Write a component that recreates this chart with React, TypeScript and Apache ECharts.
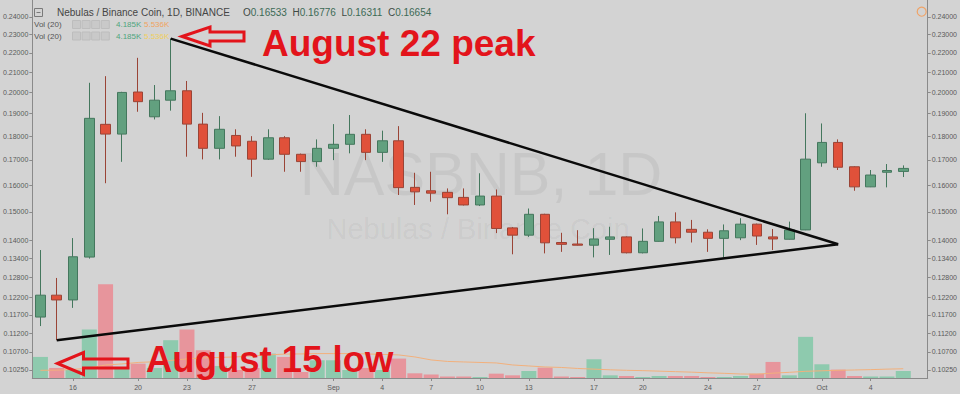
import { useEffect, useRef } from 'react';
import * as echarts from 'echarts';

// Daily NAS/BNB candles, 14 Aug – 6 Oct (one empty trailing day for right padding)
const dates = [
  '08-14', '08-15', '08-16', '08-17', '08-18', '08-19', '08-20', '08-21', '08-22', '08-23',
  '08-24', '08-25', '08-26', '08-27', '08-28', '08-29', '08-30', '08-31', '09-01', '09-02',
  '09-03', '09-04', '09-05', '09-06', '09-07', '09-08', '09-09', '09-10', '09-11', '09-12',
  '09-13', '09-14', '09-15', '09-16', '09-17', '09-18', '09-19', '09-20', '09-21', '09-22',
  '09-23', '09-24', '09-25', '09-26', '09-27', '09-28', '09-29', '09-30', '10-01', '10-02',
  '10-03', '10-04', '10-05', '10-06', '10-07',
];

const opens = [
  0.1164, 0.1227, 0.1213, 0.1345, 0.1852, 0.1809, 0.2002, 0.1886, 0.1963, 0.2008,
  0.1853, 0.1748, 0.1803, 0.1778, 0.1703, 0.1793, 0.1723, 0.1693, 0.1748, 0.1765,
  0.1808, 0.1731, 0.1780, 0.1591, 0.1578, 0.1572, 0.1553, 0.1525, 0.1558, 0.1443,
  0.1418, 0.1491, 0.1393, 0.1388, 0.1384, 0.1404, 0.1412, 0.1359, 0.1397, 0.1464,
  0.1438, 0.1428, 0.1407, 0.1409, 0.1456, 0.1412, 0.1404, 0.1436, 0.1688, 0.1773,
  0.1672, 0.1593, 0.1650, 0.16533,
];
const highs = [
  0.1368, 0.1279, 0.1408, 0.2047, 0.2080, 0.2003, 0.2174, 0.2036, 0.2277, 0.2056,
  0.1904, 0.1889, 0.1830, 0.1800, 0.1830, 0.1800, 0.1726, 0.1786, 0.1853, 0.1894,
  0.1830, 0.1824, 0.1844, 0.1648, 0.1652, 0.1587, 0.1587, 0.1646, 0.1583, 0.1446,
  0.1512, 0.1493, 0.1426, 0.1435, 0.1442, 0.1447, 0.1414, 0.1441, 0.1485, 0.1498,
  0.1471, 0.1438, 0.1455, 0.1477, 0.1458, 0.1439, 0.1465, 0.1902, 0.1856, 0.1786,
  0.1674, 0.1659, 0.1683, 0.16776,
];
const lows = [
  0.1139, 0.1101, 0.1190, 0.1340, 0.1607, 0.1692, 0.1909, 0.1874, 0.1914, 0.1713,
  0.1702, 0.1702, 0.1713, 0.1632, 0.1700, 0.1652, 0.1652, 0.1672, 0.1699, 0.1727,
  0.1699, 0.1692, 0.1562, 0.1525, 0.1537, 0.1491, 0.1523, 0.1521, 0.1425, 0.1354,
  0.1412, 0.1357, 0.1362, 0.1383, 0.1344, 0.1352, 0.1357, 0.1357, 0.1396, 0.1390,
  0.1393, 0.1362, 0.1344, 0.1401, 0.1385, 0.1368, 0.1403, 0.1435, 0.1672, 0.1659,
  0.1578, 0.1592, 0.1591, 0.16311,
];
const closes = [
  0.1227, 0.1213, 0.1346, 0.1879, 0.1809, 0.2000, 0.1956, 0.1963, 0.2008, 0.1853,
  0.1748, 0.1830, 0.1758, 0.1703, 0.1793, 0.1723, 0.1693, 0.1748, 0.1765, 0.1808,
  0.1731, 0.1780, 0.1590, 0.1574, 0.1569, 0.1552, 0.1525, 0.1558, 0.1441, 0.1418,
  0.1491, 0.1392, 0.1387, 0.1384, 0.1405, 0.1412, 0.1359, 0.1397, 0.1464, 0.1409,
  0.1428, 0.1407, 0.1433, 0.1456, 0.1415, 0.1405, 0.1436, 0.1703, 0.1773, 0.1670,
  0.1593, 0.1639, 0.1657, 0.16654,
];

// Volume in thousands, and its 20-day moving average
const volumes = [
  12.6, 6.0, 4.8, 29.0, 56.0, 6.6, 8.6, 6.0, 22.6, 29.0,
  16.6, 7.2, 4.8, 6.0, 14.6, 12.6, 3.6, 10.6, 10.6, 4.8,
  6.0, 4.8, 11.6, 2.8, 2.1, 0.9, 0.9, 0.6, 2.6, 1.6,
  4.2, 6.2, 0.9, 0.6, 11.2, 1.6, 1.2, 0.6, 1.2, 1.2,
  1.2, 0.6, 0.6, 1.2, 2.6, 9.6, 1.6, 24.6, 8.2, 5.0,
  1.2, 0.9, 0.9, 4.185,
];
const volumeMA = [
  4.6, 4.7, 5.1, 6.0, 7.8, 8.4, 9.3, 9.7, 10.5, 11.4,
  12.0, 12.3, 12.6, 13.2, 13.8, 14.3, 14.4, 14.6, 14.6, 14.6,
  14.4, 14.1, 13.8, 12.6, 10.8, 9.9, 9.6, 9.3, 9.0, 7.8,
  7.2, 6.6, 6.3, 5.7, 5.3, 4.9, 4.6, 4.4, 4.1, 3.8,
  3.5, 3.1, 2.8, 2.4, 2.3, 2.9, 3.4, 4.0, 4.3, 4.6,
  4.8, 5.0, 5.3, 5.536,
];

// Price scale ticks (log scale) and date labels on the time axis
const priceTicks = [
  0.1025, 0.107, 0.112, 0.117, 0.122, 0.128, 0.134, 0.14, 0.15, 0.16,
  0.17, 0.18, 0.19, 0.2, 0.21, 0.22, 0.23, 0.24,
];
const xLabelDates = [
  '08-16', '08-20', '08-23', '08-27', '09-01', '09-04', '09-07', '09-10',
  '09-13', '09-17', '09-20', '09-24', '09-27', '10-01', '10-04',
];
const monthNames: Record<string, string> = { '09': 'Sep', '10': 'Oct' };

// Triangle: from the 22 Aug high and the 15 Aug low to the apex on 2 Oct
const peakDate = '08-22';
const lowDate = '08-15';
const apexDate = '10-02';
const apexPrice = 0.1387;

const PRICE_MIN = 0.1005;
const PRICE_MAX = 0.2499;
const VOLUME_AXIS_MAX = 226;

const FONT = 'Liberation Sans, Arial, sans-serif';
const BG = '#d3d3d3';
const AXIS_COLOR = '#8a8a8a';
const LABEL_COLOR = '#5a5a5a';
const UP = '#62a07f';
const UP_BORDER = '#44775d';
const DOWN = '#e0513a';
const DOWN_BORDER = '#9a4436';
const VOL_UP = '#8ecaae';
const VOL_DOWN = '#e7959c';
const ANNOT_RED = '#e3141b';

function buildOption() {
  const last = opens.length - 1;
  const priceAxis = (position: 'left' | 'right') => ({
    type: 'log',
    position,
    gridIndex: 0,
    min: PRICE_MIN,
    max: PRICE_MAX,
    axisLine: { show: true, lineStyle: { color: AXIS_COLOR, width: 1 } },
    axisTick: { show: true, length: 3, customValues: priceTicks, lineStyle: { color: AXIS_COLOR } },
    axisLabel: {
      customValues: priceTicks,
      formatter: (v: number) => v.toFixed(5),
      fontSize: 7,
      color: LABEL_COLOR,
      fontFamily: FONT,
      margin: 4,
    },
    splitLine: { show: false },
    minorTick: { show: false },
    minorSplitLine: { show: false },
  });

  const isLabelDate = (_i: number, v: string) => xLabelDates.includes(v);

  const arrow = (tipX: number, tipY: number, headLen: number, headHalf: number, shaftHalf: number, tailX: number) => [
    [tipX, tipY],
    [tipX + headLen, tipY - headHalf],
    [tipX + headLen, tipY - shaftHalf],
    [tailX, tipY - shaftHalf],
    [tailX, tipY + shaftHalf],
    [tipX + headLen, tipY + shaftHalf],
    [tipX + headLen, tipY + headHalf],
  ];

  const ohlcText = `{l|O}{v|${opens[last].toFixed(5)}}  {l|H}{v|${highs[last].toFixed(5)}}  {l|L}{v|${lows[last].toFixed(5)}}  {l|C}{v|${closes[last].toFixed(5)}}`;
  const volText = `${volumes[last].toFixed(3)}K`;
  const maText = `${volumeMA[last].toFixed(3)}K`;

  const volRow = (y: number, maColor: string) => [
    { type: 'text', x: 34, y, style: { text: 'Vol (20)', fontSize: 8, fill: '#555', fontFamily: FONT, verticalAlign: 'middle' } },
    ...[0, 1, 2, 3].map((k) => ({
      type: 'rect',
      shape: { x: 72.5 + k * 9.6, y: y - 4, width: 8, height: 8 },
      style: { fill: '#c9c9c9', stroke: '#bdbdbd', lineWidth: 1 },
    })),
    { type: 'text', x: 116, y, style: { text: volText, fontSize: 8, fill: '#4fa57e', fontFamily: FONT, verticalAlign: 'middle' } },
    { type: 'text', x: 144, y, style: { text: maText, fontSize: 8, fill: maColor, fontFamily: FONT, verticalAlign: 'middle' } },
  ];

  return {
    animation: false,
    backgroundColor: BG,
    textStyle: { fontFamily: FONT },
    grid: { left: 31, right: 30, top: 0, bottom: 16, containLabel: false },
    xAxis: {
      type: 'category',
      data: dates,
      boundaryGap: true,
      axisLine: { show: true, lineStyle: { color: AXIS_COLOR } },
      axisTick: { show: true, length: 3, interval: isLabelDate, alignWithLabel: true, lineStyle: { color: AXIS_COLOR } },
      axisLabel: {
        interval: isLabelDate,
        formatter: (v: string) => {
          const [m, d] = v.split('-');
          return d === '01' ? monthNames[m] : String(parseInt(d, 10));
        },
        fontSize: 7,
        color: LABEL_COLOR,
        fontFamily: FONT,
        margin: 6,
      },
      splitLine: { show: false },
    },
    yAxis: [
      priceAxis('left'),
      priceAxis('right'),
      { type: 'value', gridIndex: 0, min: 0, max: VOLUME_AXIS_MAX, show: false, splitLine: { show: false } },
    ],
    series: [
      {
        name: 'Volume',
        type: 'bar',
        xAxisIndex: 0,
        yAxisIndex: 2,
        barWidth: 15,
        z: 1,
        data: volumes.map((v, i) => ({
          value: v,
          itemStyle: { color: closes[i] >= opens[i] ? VOL_UP : VOL_DOWN },
        })),
      },
      {
        name: 'Vol MA 20',
        type: 'line',
        xAxisIndex: 0,
        yAxisIndex: 2,
        data: volumeMA,
        showSymbol: false,
        symbol: 'none',
        z: 2,
        lineStyle: { color: '#f2b07c', width: 1 },
      },
      {
        name: 'NASBNB',
        type: 'candlestick',
        xAxisIndex: 0,
        yAxisIndex: 0,
        barWidth: 10,
        z: 3,
        data: opens.map((o, i) => [o, closes[i], lows[i], highs[i]]),
        itemStyle: {
          color: UP,
          color0: DOWN,
          borderColor: UP_BORDER,
          borderColor0: DOWN_BORDER,
          borderWidth: 1,
        },
      },
      {
        name: 'Upper trend',
        type: 'line',
        yAxisIndex: 0,
        symbol: 'none',
        z: 5,
        data: [
          [dates.indexOf(peakDate), highs[dates.indexOf(peakDate)]],
          [dates.indexOf(apexDate), apexPrice],
        ],
        lineStyle: { color: '#0a0a0a', width: 2.5 },
      },
      {
        name: 'Lower trend',
        type: 'line',
        yAxisIndex: 0,
        symbol: 'none',
        z: 5,
        data: [
          [dates.indexOf(lowDate), lows[dates.indexOf(lowDate)]],
          [dates.indexOf(apexDate), apexPrice],
        ],
        lineStyle: { color: '#0a0a0a', width: 2.5 },
      },
    ],
    graphic: [
      // watermark
      {
        type: 'text', x: 481, y: 174, z: 0,
        style: { text: 'NASBNB, 1D', fontSize: 61, fill: 'rgba(0,0,0,0.055)', fontFamily: FONT, align: 'center', verticalAlign: 'middle' },
      },
      {
        type: 'text', x: 478, y: 229, z: 0,
        style: { text: 'Nebulas / Binance Coin', fontSize: 29, fill: 'rgba(0,0,0,0.055)', fontFamily: FONT, align: 'center', verticalAlign: 'middle' },
      },
      // header
      {
        type: 'group', z: 20,
        children: [
          { type: 'rect', shape: { x: 34.5, y: 8.5, width: 8, height: 8 }, style: { fill: 'none', stroke: '#7a7a7a', lineWidth: 1 } },
          { type: 'line', shape: { x1: 36.5, y1: 12.5, x2: 40.5, y2: 12.5 }, style: { stroke: '#7a7a7a', lineWidth: 1 } },
        ],
      },
      {
        type: 'text', x: 57, y: 12.5, z: 20,
        style: { text: 'Nebulas / Binance Coin, 1D, BINANCE', fontSize: 10, fill: '#454545', fontFamily: FONT, verticalAlign: 'middle' },
      },
      {
        type: 'text', x: 243, y: 12.5, z: 20,
        style: {
          text: ohlcText, fontSize: 10, fontFamily: FONT, verticalAlign: 'middle',
          rich: {
            l: { fontSize: 10, fill: '#3e4a44', fontFamily: FONT },
            v: { fontSize: 10, fill: '#3c6a55', fontFamily: FONT },
          },
        },
      },
      { type: 'group', z: 20, children: volRow(24.5, '#f0a35e') },
      { type: 'group', z: 20, children: volRow(36, '#f0cf5c') },
      {
        type: 'circle', z: 20,
        shape: { cx: 921.7, cy: 11.7, r: 4.5 },
        style: { fill: 'none', stroke: '#f0a468', lineWidth: 1.2 },
      },
      // annotations
      {
        type: 'polygon', z: 50,
        shape: { points: arrow(182, 36.5, 28, 9.5, 4.5, 244) },
        style: { fill: 'none', stroke: ANNOT_RED, lineWidth: 3, lineJoin: 'miter' },
      },
      {
        type: 'text', x: 262, y: 43, z: 50,
        style: { text: 'August 22 peak', fontSize: 37, fontWeight: 'bold', fill: ANNOT_RED, fontFamily: FONT, verticalAlign: 'middle' },
      },
      {
        type: 'polygon', z: 50,
        shape: { points: arrow(57.5, 363.5, 26, 11, 4.5, 128) },
        style: { fill: 'none', stroke: ANNOT_RED, lineWidth: 3, lineJoin: 'miter' },
      },
      {
        type: 'text', x: 146, y: 359, z: 50,
        style: { text: 'August 15 low', fontSize: 36.5, fontWeight: 'bold', fill: ANNOT_RED, fontFamily: FONT, verticalAlign: 'middle' },
      },
    ],
  };
}

export default function App() {
  const ref = useRef<HTMLDivElement>(null);

  useEffect(() => {
    document.body.style.margin = '0';
    if (!ref.current) return;
    const chart = echarts.init(ref.current, null, { renderer: 'svg' });
    chart.setOption(buildOption() as any);
    return () => chart.dispose();
  }, []);

  return <div ref={ref} style={{ width: 960, height: 394, background: BG }} />;
}
